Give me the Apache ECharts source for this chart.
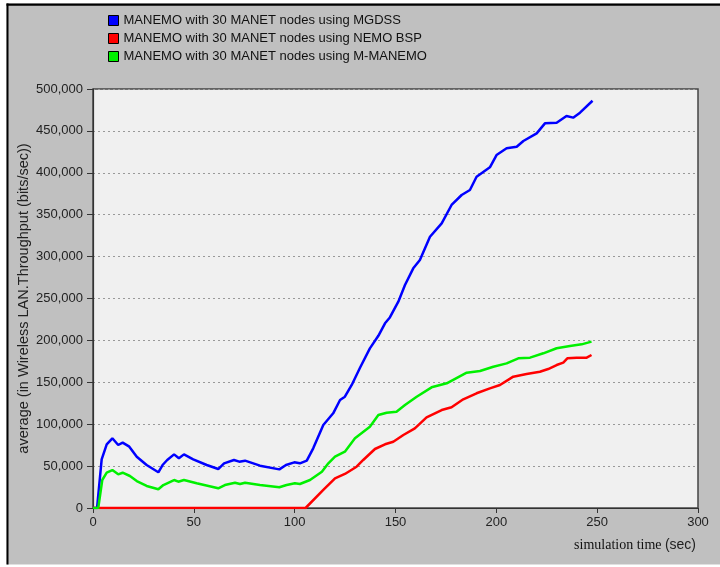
<!DOCTYPE html>
<html>
<head>
<meta charset="utf-8">
<script src="https://cdn.jsdelivr.net/npm/echarts@6/dist/echarts.min.js"></script>
<style>
  html, body { margin: 0; padding: 0; background: #fff; }
  #main { width: 720px; height: 567px; }
</style>
</head>
<body>
<div id="main"></div>
<script>
// series names
var seriesNames = [
    'MANEMO with 30 MANET nodes using MGDSS',
    'MANEMO with 30 MANET nodes using NEMO BSP',
    'MANEMO with 30 MANET nodes using M-MANEMO'
];

// MGDSS (blue)
var mgdssTime = [0, 2, 4.3, 6.8, 9.6, 12.5, 14.7, 18, 21.7, 26.6, 32.4, 34.5, 36.8, 40.2, 42.6, 45.1, 49.7, 56.4, 62.1, 65,
    69.9, 72.5, 75.4, 82.8, 92.4, 95.7, 99.8, 102.6, 106, 109.2, 114.2, 119.1, 122.5, 124.9, 128.3, 132.4, 137.3, 141.5, 144.8, 147.2,
    151.4, 154.7, 158.8, 162.1, 167.1, 172.9, 177.8, 182.8, 186.9, 190.2, 196.8, 200.1, 205.1, 210.1, 213.4, 220, 224.1, 229.9, 234.8, 238.1,
    241.5, 247.7];
var mgdssValues = [0, 0, 58100, 76000, 83200, 75200, 78000, 73200, 61200, 51300, 42600, 51300, 57300, 64000, 59300, 64000, 58100, 51300, 46500, 53300,
    57300, 55300, 56500, 50500, 46100, 51300, 54500, 53300, 56500, 71200, 99000, 113000, 128900, 132800, 146800, 167300, 190500, 205500, 220400, 227400,
    246200, 266100, 286000, 296000, 323700, 339700, 361600, 373500, 379500, 395300, 406500, 421200, 429200, 431100, 437900, 447100, 459000, 459800, 467800, 465800,
    471700, 486000];

// NEMO BSP (red)
var nemoTime = [0, 105.4, 114.2, 120, 124.9, 130.7, 134, 139.8, 144.8, 148.9, 153.9, 159.6, 165.4, 172.9, 177.8,
    183.6, 190.2, 196.8, 201.8, 208.4, 215, 221.6, 225.7, 229.9, 233.2, 235.2, 239.8, 244.8, 247.2];
var nemoValues = [0, 0, 21500, 35400, 40600, 49300, 57300, 70400, 76000, 79100, 87100, 95100, 108200, 116900, 120200,
    129700, 136900, 142800, 146800, 156700, 159900, 162600, 165800, 170600, 173400, 178600, 179400, 179400, 182600];

// M-MANEMO (green)
var mmanemoTime = [0, 2.6, 4.6, 6.8, 9.6, 12.5, 14.7, 18.3, 21.7, 26.6, 32.4, 34.9, 40.2, 42.3, 45.1, 51.4, 62.1, 65.4, 70.4, 72.9,
    75.4, 82.8, 92.4, 96, 100.1, 102.6, 107.6, 113.5, 116.7, 120, 124.9, 129.9, 137.3, 141.5, 145.6, 150.5, 154.7, 160.5, 167.9, 175.4,
    185.3, 191.9, 198.5, 205.1, 210.9, 216.7, 223.3, 229.9, 236.5, 242.3, 247.2];
var mmanemoValues = [0, 0, 33400, 42100, 45300, 40200, 42100, 38200, 32200, 26300, 22300, 27400, 33400, 31400, 33400, 29500, 23500, 27400, 30200, 28600,
    30200, 27400, 24700, 27400, 29500, 28600, 33400, 43300, 53300, 61200, 67200, 83200, 97000, 111000, 113700, 114900, 122900, 132800, 144000, 148800,
    161500, 163500, 168600, 172600, 178600, 179400, 184600, 190600, 193300, 195300, 198500];

function zip(xs, ys) {
    var out = [];
    for (var i = 0; i < xs.length; i++) out.push([xs[i], ys[i]]);
    return out;
}

function withCommas(v) {
    return String(v).replace(/\B(?=(\d{3})+(?!\d))/g, ',');
}

var myChart = echarts.init(document.getElementById('main'));

var font = 'Arial, "Liberation Sans", sans-serif';

function lineSeries(name, color, data) {
    return {
        name: name,
        type: 'line',
        data: data,
        showSymbol: false,
        symbol: 'none',
        smooth: false,
        animation: false,
        lineStyle: { color: color, width: 2.5 },
        itemStyle: { color: color }
    };
}

option = {
    backgroundColor: '#c0c0c0',
    animation: false,
    graphic: [
        // white page margins + black frame lines
        { type: 'rect', shape: { x: 0, y: 0, width: 720, height: 3.5 }, style: { fill: '#fff' }, silent: true },
        { type: 'rect', shape: { x: 0, y: 0, width: 6.5, height: 567 }, style: { fill: '#fff' }, silent: true },
        { type: 'rect', shape: { x: 0, y: 564.5, width: 720, height: 3 }, style: { fill: '#fff' }, silent: true },
        { type: 'rect', shape: { x: 6.5, y: 3.5, width: 714, height: 2.2 }, style: { fill: '#000' }, silent: true },
        { type: 'rect', shape: { x: 6.5, y: 3.5, width: 2, height: 561 }, style: { fill: '#000' }, silent: true }
    ],
    legend: {
        orient: 'vertical',
        left: 108,
        top: 14,
        padding: 0,
        itemWidth: 10,
        itemHeight: 10,
        itemGap: 5,
        icon: 'rect',
        itemStyle: { borderColor: '#000', borderWidth: 1 },
        textStyle: { fontFamily: font, fontSize: 13, color: '#111', lineHeight: 13 },
        data: seriesNames
    },
    grid: {
        left: 93,
        top: 89,
        right: 22,
        bottom: 59,
        show: true,
        backgroundColor: '#f0f0f0',
        borderColor: '#444',
        borderWidth: 1.5
    },
    xAxis: {
        type: 'value',
        min: 0,
        max: 300,
        interval: 50,
        name: '{a|simulation time} {b|(sec)}',
        nameLocation: 'end',
        nameGap: -2,
        nameMoveOverlap: false,
        nameTextStyle: {
            align: 'right',
            verticalAlign: 'top',
            padding: [30, 0, 0, 0],
            rich: {
                a: { fontFamily: '"Liberation Serif", "Times New Roman", serif', fontSize: 14, color: '#111' },
                b: { fontFamily: font, fontSize: 14, color: '#222' }
            }
        },
        axisLine: { lineStyle: { color: '#333', width: 1.2 } },
        axisTick: { show: true, length: 5, lineStyle: { color: '#333' } },
        axisLabel: { fontFamily: font, fontSize: 13, color: '#222', margin: 8 },
        splitLine: { show: false }
    },
    yAxis: {
        type: 'value',
        min: 0,
        max: 500000,
        interval: 50000,
        name: 'average (in Wireless LAN.Throughput (bits/sec))',
        nameLocation: 'middle',
        nameGap: 62,
        nameMoveOverlap: false,
        nameTextStyle: { fontFamily: font, fontSize: 14.5, color: '#222' },
        axisLine: { show: true, lineStyle: { color: '#333', width: 1.2 } },
        axisTick: { show: true, length: 6, lineStyle: { color: '#333' } },
        axisLabel: {
            fontFamily: font, fontSize: 13, color: '#222', margin: 10,
            formatter: function (v) { return withCommas(v); }
        },
        splitLine: { show: true, lineStyle: { color: '#999', type: [2, 3], width: 1 } }
    },
    series: [
        lineSeries(seriesNames[0], '#0000ff', zip(mgdssTime, mgdssValues)),
        lineSeries(seriesNames[1], '#ff0000', zip(nemoTime, nemoValues)),
        lineSeries(seriesNames[2], '#00f000', zip(mmanemoTime, mmanemoValues))
    ]
};

myChart.setOption(option);
</script>
</body>
</html>
